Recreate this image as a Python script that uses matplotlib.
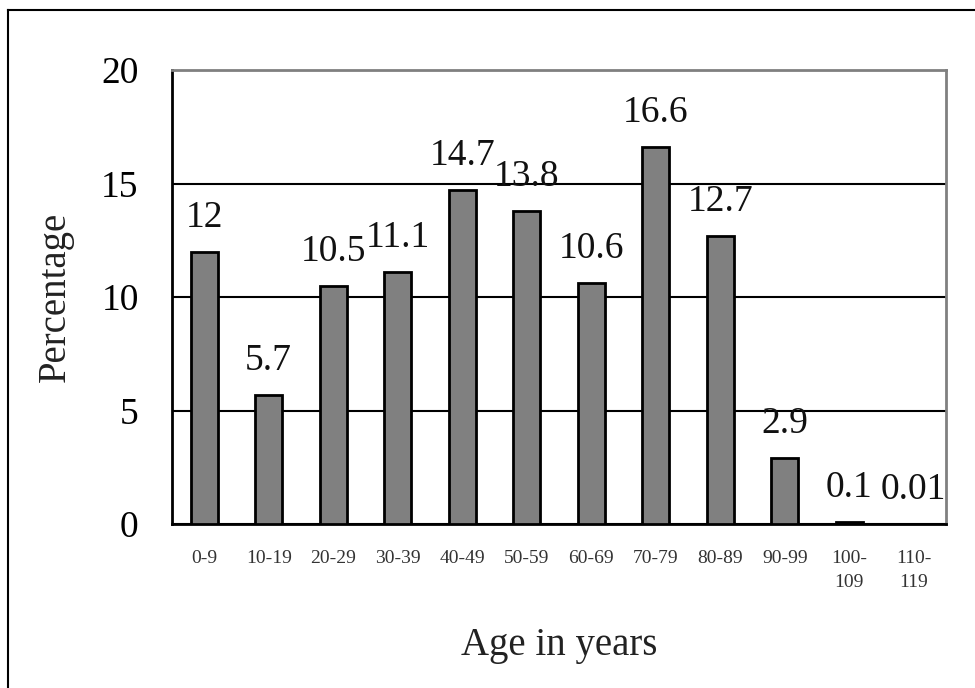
import numpy as np
import matplotlib
matplotlib.use('Agg')
import matplotlib.pyplot as plt
from matplotlib.lines import Line2D

# Distribuição percentual por faixa etária
faixas = ['0-9', '10-19', '20-29', '30-39', '40-49', '50-59', '60-69',
          '70-79', '80-89', '90-99', '100-\n109', '110-\n119']
percentuais = [12, 5.7, 10.5, 11.1, 14.7, 13.8, 10.6, 16.6, 12.7, 2.9, 0.1, 0.01]
rotulos = ['12', '5.7', '10.5', '11.1', '14.7', '13.8', '10.6', '16.6',
           '12.7', '2.9', '0.1', '0.01']
ticks_y = [0, 5, 10, 15, 20]

plt.rcParams['font.family'] = ['Liberation Serif', 'DejaVu Serif']

fig = plt.figure(figsize=(9.75, 6.88), dpi=100)
ax = fig.add_axes([0.1764, 0.2384, 0.7939, 0.6596])

x = np.arange(len(faixas))
ax.bar(x, percentuais, width=0.42, color='#808080', edgecolor='black',
       linewidth=2, zorder=3)

for xi, v, txt in zip(x, percentuais, rotulos):
    ax.annotate(txt, (xi, v), xytext=(0, 18), textcoords='offset points',
                ha='center', va='baseline', fontsize=27, color='#111111')

ax.set_xlim(-0.5, len(faixas) - 0.5)
ax.set_ylim(0, 20)
ax.set_yticks(ticks_y)
ax.set_yticklabels([str(t) for t in ticks_y], fontsize=27)
ax.set_xticks(x)
ax.set_xticklabels(faixas, fontsize=14, color='#333333', linespacing=1.5)
ax.tick_params(axis='both', length=0)
ax.tick_params(axis='y', pad=24)
ax.tick_params(axis='x', pad=19)

ax.yaxis.grid(True, color='black', linewidth=1.5, zorder=0)
ax.set_axisbelow(True)

ax.spines['left'].set_color('black')
ax.spines['bottom'].set_color('black')
ax.spines['top'].set_color('#808080')
ax.spines['right'].set_color('#808080')
for s in ax.spines.values():
    s.set_linewidth(2)

ax.set_ylabel('Percentage', fontsize=28, labelpad=20, color='#222222')
ax.set_xlabel('Age in years', fontsize=28, labelpad=26, color='#222222')

# moldura externa (lado esquerdo e topo)
W, H = 975, 688
fig.add_artist(Line2D([8 / W, 8 / W], [0, 1 - 10 / H], color='black', lw=1.5))
fig.add_artist(Line2D([8 / W, 1], [1 - 10 / H, 1 - 10 / H], color='black', lw=1.5))

fig.savefig('out.png', dpi=100)
